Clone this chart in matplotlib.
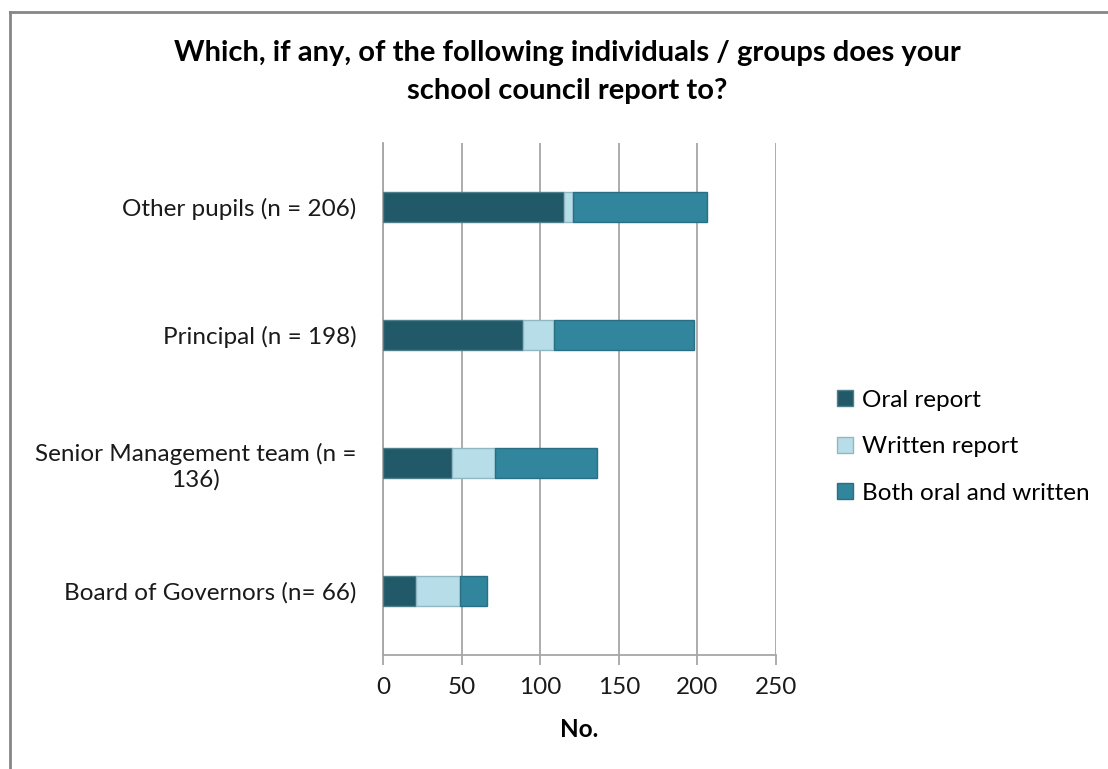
import matplotlib
matplotlib.use("Agg")
import matplotlib.pyplot as plt
from matplotlib.lines import Line2D
from matplotlib.patches import Patch

plt.rcParams['font.family'] = ['Lato', 'DejaVu Sans']

# %% Data
categories = ["Other pupils (n = 206)", "Principal (n = 198)",
              "Senior Management team (n =\n136)", "Board of Governors (n= 66)"]
oral = [115, 89, 44, 21]
written = [6, 20, 27, 28]
both = [85, 89, 65, 17]
series_names = ["Oral report", "Written report", "Both oral and written"]
colors = ["#215968", "#B7DEE8", "#31859C"]
edges = ["#4F7F8B", "#8FB8C4", "#2A6F82"]

# %% Figure
fig = plt.figure(figsize=(11.08, 7.69), dpi=100)
ax = fig.add_axes([383/1108, 1-655/769, 393/1108, 512/769])

ypos = list(range(len(categories)))
left = [0]*len(categories)
for vals, c, e, name in zip([oral, written, both], colors, edges, series_names):
    ax.barh(ypos, vals, left=left, height=0.24, color=c, edgecolor=e,
            linewidth=1, label=name, zorder=3)
    left = [l + v for l, v in zip(left, vals)]

ax.set_ylim(len(categories)-0.5, -0.5)
ax.set_xlim(0, 250)
ax.set_xticks([0, 50, 100, 150, 200, 250])
ax.set_yticks(ypos)
ax.set_yticklabels(categories, fontsize=17.5, color='#1a1a1a', multialignment='center')
ax.tick_params(axis='y', length=0, pad=19)
ax.tick_params(axis='x', length=7, color='#a6a6a6', width=1.3, labelsize=17.5,
               labelcolor='#1a1a1a', pad=9)
ax.grid(axis='x', color='#a6a6a6', linewidth=1.3, zorder=0)
for s in ['top', 'right']:
    ax.spines[s].set_visible(False)
for s in ['left', 'bottom']:
    ax.spines[s].set_color('#a6a6a6')
    ax.spines[s].set_linewidth(1.3)
ax.set_xlabel("No.", fontsize=17.5, fontweight='bold', labelpad=14)

fig.suptitle("Which, if any, of the following individuals / groups does your\nschool council report to?",
             x=567/1108, y=1-40/769, fontsize=21, fontweight='bold', linespacing=1.55)

handles = [Patch(facecolor=c, edgecolor=e) for c, e in zip(colors, edges)]
fig.legend(handles, series_names, loc='upper left', bbox_to_anchor=(815/1108, 1-368/769),
           frameon=False, fontsize=17.5, handlelength=0.65, handleheight=0.65,
           handletextpad=0.4, labelspacing=1.05)

# outer chart border
fig.add_artist(Line2D([10/1108, 10/1108], [0, 1-12/769], transform=fig.transFigure,
                      color='#868686', linewidth=2))
fig.add_artist(Line2D([10/1108, 1], [1-12/769, 1-12/769], transform=fig.transFigure,
                      color='#868686', linewidth=2))

fig.savefig("out.png", dpi=100)
